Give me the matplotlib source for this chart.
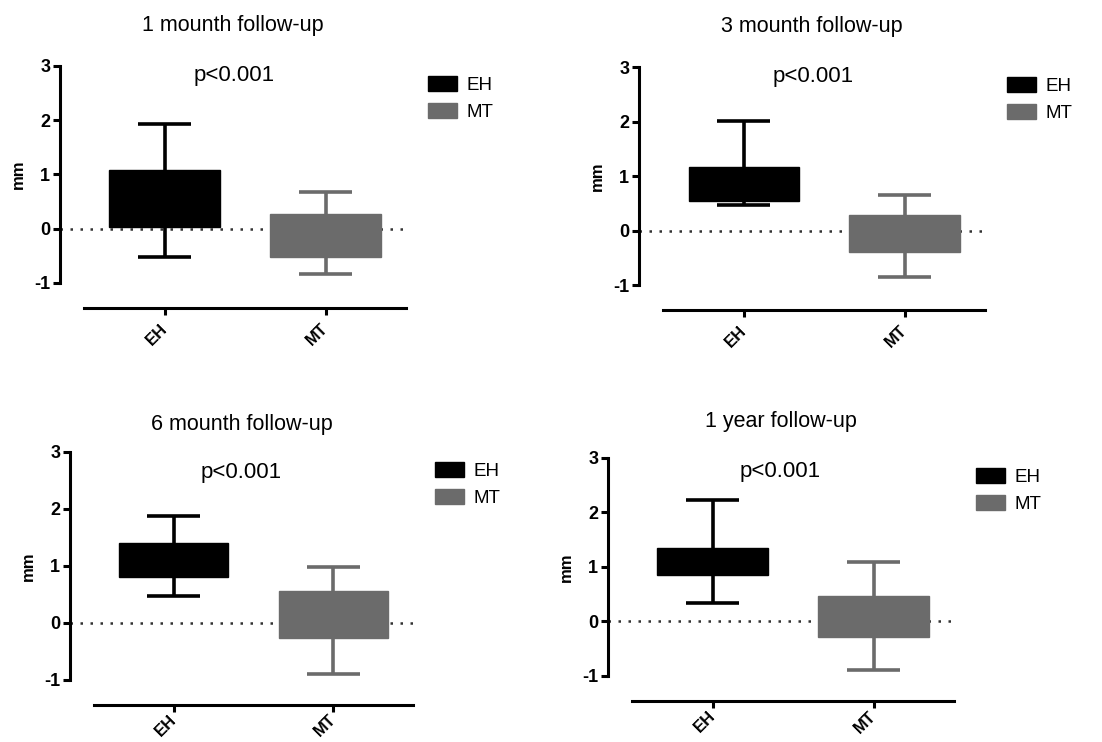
import numpy as np
import matplotlib.pyplot as plt
from matplotlib.patches import Patch

plt.rcParams['font.family'] = ['Liberation Sans', 'DejaVu Sans']
plt.rcParams['axes.unicode_minus'] = False

groups = ["EH", "MT"]
titles = ["1 mounth follow-up", "3 mounth follow-up", "6 mounth follow-up", "1 year follow-up"]
p_label = "p<0.001"

# box limits and whisker ends for each panel, order EH, MT
box_low = [[0.03, -0.53], [0.55, -0.40], [0.81, -0.26], [0.86, -0.29]]
box_high = [[1.08, 0.28], [1.16, 0.29], [1.40, 0.55], [1.35, 0.47]]
whisk_low = [[-0.52, -0.83], [0.46, -0.86], [0.47, -0.90], [0.33, -0.89]]
whisk_high = [[1.93, 0.68], [2.01, 0.65], [1.88, 0.97], [2.22, 1.09]]

colors = ["#000000", "#6b6b6b"]

# axes rectangles in figure fraction (left, bottom, width, height)
rects = [
    [0.0544, 0.6186, 0.314, 0.2925],
    [0.5799, 0.6159, 0.314, 0.2938],
    [0.0635, 0.0840, 0.3113, 0.3070],
    [0.5517, 0.0890, 0.314, 0.2940],
]
title_pads = [25, 25, 16, 22]
xtick_pads = [8, 8, 4, 4]
p_pos = [(1.43, 2.83), (1.43, 2.82), (1.42, 2.63), (1.42, 2.74)]

fig = plt.figure(figsize=(11.02, 7.42), dpi=100)

x = np.array([1, 2])
for i, rect in enumerate(rects):
    ax = fig.add_axes(rect)
    lo = np.array(box_low[i])
    hi = np.array(box_high[i])

    ax.axhline(0, color="#333333", lw=1.8, ls=(0, (1, 3)), zorder=0)
    ax.vlines(x, whisk_low[i], whisk_high[i], colors=colors, lw=2.6, zorder=1)
    ax.hlines(whisk_low[i], x - 0.165, x + 0.165, colors=colors, lw=2.6, zorder=1)
    ax.hlines(whisk_high[i], x - 0.165, x + 0.165, colors=colors, lw=2.6, zorder=1)
    ax.bar(x, hi - lo, bottom=lo, width=0.685, color=colors, edgecolor=colors, lw=1, zorder=2)

    ax.set_xlim(0.35, 2.5)
    ax.set_ylim(-1, 3)
    for s in ["top", "right"]:
        ax.spines[s].set_visible(False)
    ax.spines["left"].set_linewidth(2.2)
    ax.spines["bottom"].set_linewidth(2.2)
    ax.spines["left"].set_bounds(-1, 3)
    ax.spines["bottom"].set_position(("outward", 18))
    ax.spines["bottom"].set_bounds(0.5, 2.5)

    ax.set_yticks([-1, 0, 1, 2, 3])
    ax.set_yticklabels(["-1", "0", "1", "2", "3"], fontweight="bold")
    ax.set_xticks(x)
    ax.set_xticklabels(groups, rotation=45, ha="right", va="center",
                       rotation_mode="anchor", fontweight="bold")
    ax.tick_params(direction="out", length=5, width=2.2, labelsize=13, pad=2)
    ax.tick_params(axis="x", labelsize=12, pad=xtick_pads[i])
    ax.set_ylabel("mm", fontsize=12, fontweight="bold", labelpad=6)

    ax.set_title(titles[i], fontsize=15.5, pad=title_pads[i])
    ax.text(p_pos[i][0], p_pos[i][1], p_label, fontsize=16, ha="center", va="center")

    handles = [Patch(facecolor=c, edgecolor=c) for c in colors]
    ax.legend(handles, groups, loc="upper left", bbox_to_anchor=(1.064, 0.955),
              frameon=False, fontsize=13.5, handlelength=1.55, handleheight=0.85,
              labelspacing=0.5, handletextpad=0.5, borderpad=0, borderaxespad=0)

fig.savefig("out.png", dpi=100, facecolor="white")
